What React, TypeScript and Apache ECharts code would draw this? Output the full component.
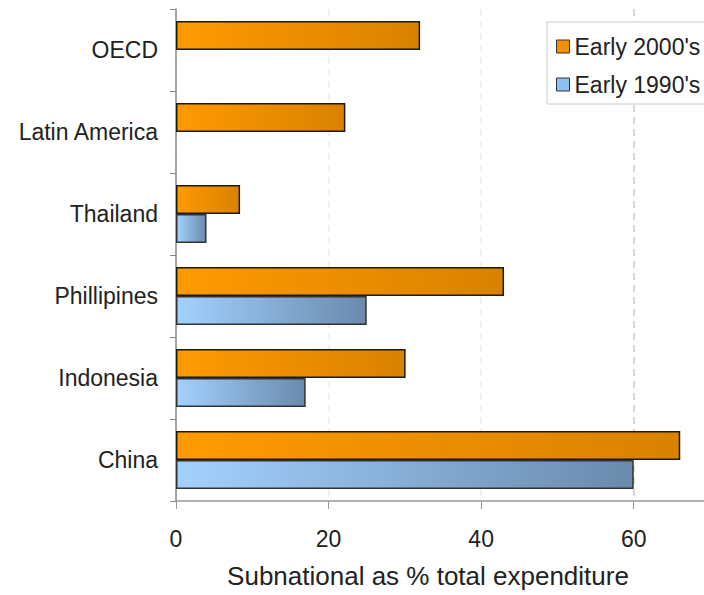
import React, { useEffect, useRef } from "react";
import * as echarts from "echarts";

const categories = ["China", "Indonesia", "Phillipines", "Thailand", "Latin America", "OECD"];
const early2000s = [66.1, 30.1, 43, 8.4, 22.2, 32];
const early1990s: (number | null)[] = [60, 17, 25, 4, null, null];
const xTicks = [0, 20, 40, 60];
const seriesNames = ["Early 2000's", "Early 1990's"];
const axisTitle = "Subnational as % total expenditure";

export default function App() {
  const ref = useRef<HTMLDivElement>(null);
  useEffect(() => {
    if (!ref.current) return;
    const chart = echarts.init(ref.current, undefined, { renderer: "svg" });
    const font = "'Liberation Sans', Arial, sans-serif";
    const orange = new echarts.graphic.LinearGradient(0, 0, 1, 0, [
      { offset: 0, color: "#ff9a00" },
      { offset: 1, color: "#d98200" },
    ]);
    const blue = new echarts.graphic.LinearGradient(0, 0, 1, 0, [
      { offset: 0, color: "#a3d1ff" },
      { offset: 1, color: "#6a8aac" },
    ]);
    chart.setOption({
      animation: false,
      backgroundColor: "#ffffff",
      grid: { left: 176, top: 9, width: 534, height: 492, containLabel: false, outerBoundsMode: "none" },
      legend: {
        left: 547,
        top: 22,
        orient: "vertical",
        padding: [13, 40, 8, 9],
        itemGap: 15,
        itemWidth: 13,
        itemHeight: 13,
        borderColor: "#cccccc",
        borderWidth: 1,
        backgroundColor: "#ffffff",
        data: [
          { name: seriesNames[0], icon: "rect", itemStyle: { color: "#f59000", borderColor: "#333", borderWidth: 1 } },
          { name: seriesNames[1], icon: "rect", itemStyle: { color: "#8fbef0", borderColor: "#333", borderWidth: 1 } },
        ],
        textStyle: { fontSize: 23, color: "#222", fontFamily: font },
      },
      xAxis: {
        type: "value",
        min: 0,
        max: 70,
        interval: 20,
        axisLine: { show: true, lineStyle: { color: "#999", width: 1.5 } },
        axisTick: { show: true, length: 8, lineStyle: { color: "#999" }, customValues: xTicks },
        axisLabel: {
          fontSize: 23,
          color: "#222",
          fontFamily: font,
          margin: 26,
          customValues: xTicks,
        },
        splitLine: {
          show: true,
          lineStyle: {
            type: [7, 5],
            width: 1.5,
            color: ["#ececec", "#ececec", "#ececec", "#cccccc"],
          },
        },
        name: axisTitle,
        nameLocation: "middle",
        nameGap: 62,
        nameTextStyle: { fontSize: 26, color: "#222", fontFamily: font, padding: [0, 30, 0, 0] },
      },
      yAxis: {
        type: "category",
        data: categories,
        axisLine: { show: true, lineStyle: { color: "#888", width: 1.5 } },
        axisTick: { show: true, length: 6, lineStyle: { color: "#888" } },
        axisLabel: { fontSize: 23, color: "#222", fontFamily: font, margin: 18 },
        splitLine: { show: false },
      },
      series: [
        {
          name: seriesNames[0],
          type: "bar",
          data: early2000s,
          barWidth: 29,
          barGap: "0%",
          itemStyle: { color: orange, borderColor: "#1a1a1a", borderWidth: 1.5 },
        },
        {
          name: seriesNames[1],
          type: "bar",
          data: early1990s,
          barWidth: 29,
          barGap: "0%",
          itemStyle: { color: blue, borderColor: "#333", borderWidth: 1.5 },
        },
      ],
    });
    return () => chart.dispose();
  }, []);
  return (
    <div
      ref={ref}
      style={{ position: "fixed", left: 0, top: 0, width: 704, height: 595 }}
    />
  );
}
